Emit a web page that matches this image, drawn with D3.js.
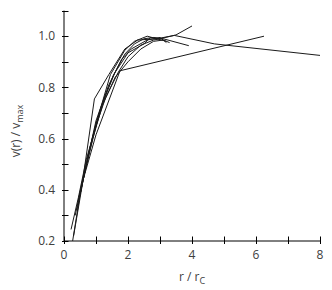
<!DOCTYPE html>
<html>
<head>
<meta charset="utf-8">
<script src="https://cdn.jsdelivr.net/npm/d3@7"></script>
<style>
  body { margin: 0; background: #fff; }
  text { font-family: "Open Sans", "DejaVu Sans", sans-serif; fill: #404040; }
</style>
</head>
<body>
<div id="viz"></div>
<script>
// rotation curves, r / r_C vs v(r) / v_max
const curveA = [[0.27,0.2],[0.5,0.38],[0.75,0.53],[1.0,0.66],[1.3,0.77],[1.6,0.86],[1.9,0.93],[2.2,0.97],[2.5,0.99],[2.8,0.995],[3.1,0.99],[3.9,0.963]];
const curveB = [[0.22,0.245],[0.45,0.37],[0.7,0.52],[1.0,0.65],[1.3,0.76],[1.7,0.86],[2.0,0.92],[2.4,0.965],[2.8,0.985],[3.0,0.99],[3.5,1.005],[4.0,1.04]];
const curveC = [[0.35,0.3],[0.6,0.45],[0.95,0.755],[1.4,0.85],[1.9,0.95],[2.3,0.985],[2.9,0.99],[3.45,1.003],[4.7,0.97],[8.0,0.925]];
const curveD = [[0.3,0.22],[0.6,0.44],[1.0,0.615],[1.75,0.865],[6.25,1.0]];
const curveE = [[0.4,0.32],[0.7,0.5],[1.0,0.67],[1.4,0.81],[1.8,0.91],[2.1,0.95],[2.6,0.985],[3.0,0.995],[3.2,0.975]];
const curveF = [[0.5,0.38],[0.8,0.56],[1.1,0.7],[1.45,0.85],[1.9,0.945],[2.2,0.98],[2.6,1.0],[2.9,0.99],[3.2,0.98]];
const curveG = [[0.6,0.44],[0.9,0.6],[1.2,0.73],[1.6,0.84],[2.0,0.9],[2.4,0.95],[2.8,0.98],[3.1,0.985],[3.3,0.975]];
const curveH = [[0.45,0.36],[0.8,0.55],[1.15,0.72],[1.55,0.85],[2.0,0.935],[2.5,0.97],[2.7,0.995],[3.0,0.99]];
const curves = [curveA, curveB, curveC, curveD, curveE, curveF, curveG, curveH];

const xTicks = [0, 2, 4, 6, 8];
const xMinor = [1, 3, 5, 7];
const yTicks = [0.2, 0.4, 0.6, 0.8, 1.0];
const yMinor = [0.3, 0.5, 0.7, 0.9, 1.1];

const width = 332, height = 290;
const margin = { top: 10.6, right: 12, bottom: 49, left: 64 };

const x = d3.scaleLinear().domain([0, 8]).range([margin.left, width - margin.right]);
const y = d3.scaleLinear().domain([0.2, 1.1]).range([height - margin.bottom, margin.top]);

const svg = d3.select("#viz").append("svg")
  .attr("width", width)
  .attr("height", height);

const axisColor = "#000";

// x axis line + cross ticks
const gx = svg.append("g");
gx.append("line")
  .attr("x1", x(0)).attr("x2", x(8))
  .attr("y1", y(0.2)).attr("y2", y(0.2))
  .attr("stroke", axisColor);
gx.selectAll("line.tick")
  .data(xTicks.concat(xMinor)).enter()
  .append("line")
  .attr("class", "tick")
  .attr("x1", d => Math.round(x(d)) + 0.5).attr("x2", d => Math.round(x(d)) + 0.5)
  .attr("y1", y(0.2) - 4.5).attr("y2", y(0.2) + 3)
  .attr("stroke", axisColor);
gx.selectAll("text")
  .data(xTicks).enter()
  .append("text")
  .attr("x", d => x(d))
  .attr("y", y(0.2) + 18)
  .attr("text-anchor", "middle")
  .attr("font-size", 12)
  .text(d => d);

// y axis line + cross ticks
const gy = svg.append("g");
gy.append("line")
  .attr("x1", x(0)).attr("x2", x(0))
  .attr("y1", y(0.2)).attr("y2", y(1.1))
  .attr("stroke", axisColor);
gy.selectAll("line.tick")
  .data(yTicks.concat(yMinor)).enter()
  .append("line")
  .attr("class", "tick")
  .attr("x1", x(0) - 2).attr("x2", x(0) + 4.5)
  .attr("y1", d => Math.round(y(d)) + 0.5).attr("y2", d => Math.round(y(d)) + 0.5)
  .attr("stroke", axisColor);
gy.selectAll("text")
  .data(yTicks).enter()
  .append("text")
  .attr("x", x(0) - 9)
  .attr("y", d => y(d))
  .attr("dy", "0.35em")
  .attr("text-anchor", "end")
  .attr("font-size", 12)
  .text(d => d.toFixed(1));

// curves
const line = d3.line().x(d => x(d[0])).y(d => y(d[1]));
svg.append("g")
  .selectAll("path")
  .data(curves).enter()
  .append("path")
  .attr("d", line)
  .attr("fill", "none")
  .attr("stroke", "#1a1a1a")
  .attr("stroke-width", 1);

// axis titles
const xt = svg.append("text")
  .attr("x", x(4))
  .attr("y", 281)
  .attr("text-anchor", "middle")
  .attr("font-size", 12);
xt.append("tspan").text("r / r");
xt.append("tspan").attr("font-size", 9).attr("dy", 3).text("C");

const yt = svg.append("text")
  .attr("transform", "translate(20,131) rotate(-90)")
  .attr("text-anchor", "middle")
  .attr("font-size", 12);
yt.append("tspan").text("v(r) / v");
yt.append("tspan").attr("font-size", 9).attr("dy", 3).text("max");
</script>
</body>
</html>
